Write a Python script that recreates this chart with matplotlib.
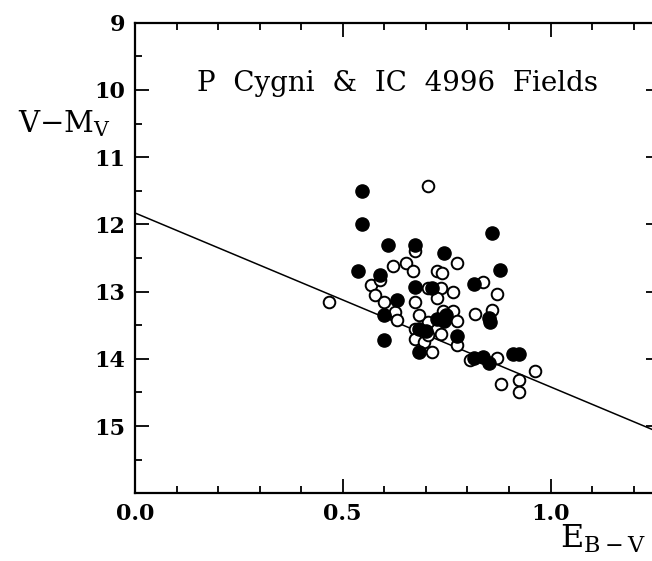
"""
reddening plot for the P Cygni and IC 4996 fields
"""

# importing the libraries
import matplotlib
matplotlib.use("Agg")
import matplotlib.pyplot as plt
from matplotlib.ticker import MultipleLocator

# font setup (serif, like the scanned figure)
plt.rcParams["font.family"] = ["DejaVu Serif"]
plt.rcParams["mathtext.fontset"] = "dejavuserif"
plt.rcParams["mathtext.default"] = "regular"

# filled symbols (E_B-V, V-M_V)
filled_e = [0.547, 0.547, 0.610, 0.674, 0.744, 0.860, 0.878, 0.536, 0.589, 0.674,
            0.716, 0.815, 0.631, 0.600, 0.600, 0.684, 0.700, 0.684, 0.727, 0.743,
            0.748, 0.774, 0.851, 0.854, 0.815, 0.838, 0.851, 0.909, 0.925]
filled_m = [11.50, 12.00, 12.30, 12.30, 12.43, 12.13, 12.68, 12.70, 12.75, 12.93,
            12.95, 12.89, 13.12, 13.35, 13.72, 13.55, 13.58, 13.90, 13.40, 13.44,
            13.35, 13.66, 13.39, 13.45, 13.99, 13.98, 14.06, 13.93, 13.93]

# open symbols
open_e = [0.467, 0.568, 0.578, 0.600, 0.589, 0.621, 0.626, 0.631, 0.652, 0.668,
          0.674, 0.674, 0.674, 0.674, 0.695, 0.705, 0.716, 0.705, 0.727, 0.737,
          0.705, 0.727, 0.741, 0.766, 0.774, 0.765, 0.774, 0.738, 0.838, 0.871,
          0.819, 0.860, 0.737, 0.774, 0.806, 0.871, 0.963, 0.925, 0.880, 0.925,
          0.705, 0.684]
open_m = [13.15, 12.90, 13.05, 13.15, 12.82, 12.62, 13.30, 13.42, 12.58, 12.70,
          12.40, 13.15, 13.55, 13.70, 13.75, 13.45, 13.90, 11.43, 12.70, 12.95,
          12.95, 13.10, 13.29, 13.29, 13.43, 13.01, 12.57, 12.72, 12.86, 13.04,
          13.33, 13.28, 13.63, 13.79, 14.01, 13.99, 14.18, 14.31, 14.37, 14.49,
          13.65, 13.35]

# reddening line
line_e = [0.0, 1.26]
line_m = [11.83, 15.09]

fig = plt.figure(figsize=(6.52, 5.61), dpi=100)
# frame runs a little past the right edge of the picture
ax = fig.add_axes([135 / 652, 0.1207, 525 / 652, 0.8388])

ax.plot(line_e, line_m, color="black", lw=1.1, zorder=2)
ax.scatter(open_e, open_m, s=70, facecolors="white", edgecolors="black",
           linewidths=1.4, zorder=3)
ax.scatter(filled_e, filled_m, s=90, color="black", zorder=4)

ax.set_xlim(0, 525 / 415.5)
ax.set_ylim(16, 9)

ax.xaxis.set_minor_locator(MultipleLocator(0.1))
ax.yaxis.set_minor_locator(MultipleLocator(0.5))
ax.set_xticks([0.0, 0.5, 1.0])
ax.set_xticklabels(["0.0", "0.5", "1.0"], fontweight="bold")
ax.set_yticks([9, 10, 11, 12, 13, 14, 15, 16])
ax.set_yticklabels(["9", "10", "11", "12", "13", "14", "15", ""],
                   fontweight="bold")

ax.tick_params(which="both", direction="in", top=True, right=True,
               width=1.3, labelsize=16, pad=7)
ax.tick_params(which="major", length=10)
ax.tick_params(which="minor", length=5)

for side in ["left", "bottom", "top", "right"]:
    ax.spines[side].set_linewidth(1.6)

# text inside the frame
ax.text(0.15, 9.9, "P  Cygni  &  IC  4996  Fields", fontsize=20,
        ha="left", va="center")

# axis labels placed like the original
fig.text(18 / 652, 1 - 132 / 561, r"V$-$M$_V$", fontsize=21,
         ha="left", va="baseline")
fig.text(560 / 652, 1 - 548 / 561, r"E$_{B-V}$", fontsize=23,
         ha="left", va="baseline")

# saving the figure
fig.savefig("out.png", dpi=100)
